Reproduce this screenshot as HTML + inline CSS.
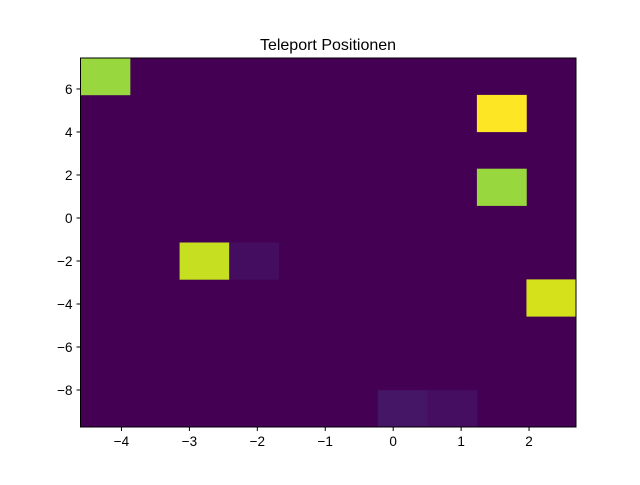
<!DOCTYPE html>
<html><head><meta charset="utf-8"><style>
body{margin:0;background:#fff;}
svg text{font-family:"Liberation Sans","DejaVu Sans",sans-serif;fill:#000;}
</style></head><body>
<svg id="chart" width="640" height="480" viewBox="0 0 640 480" xmlns="http://www.w3.org/2000/svg">
<rect width="640" height="480" fill="#fff"/>
<text x="328" y="50" font-size="16" text-anchor="middle">Teleport Positionen</text>
<g id="cells"></g>
<g id="axes"></g>
</svg>
<script>
const xEdgesStart = -4.603, binW = 0.7294, nX = 10;
const yEdgesStart = -9.72, binH = 1.716, nY = 10;
const xTicks = [-4,-3,-2,-1,0,1,2];
const yTicks = [-8,-6,-4,-2,0,2,4,6];
// nonzero cells: [col, rowFromBottom, count]
const cellCols = [0,8,8,2,3,9,6,7];
const cellRows = [9,8,6,4,4,3,0,0];
const cellCounts = [27,34,27,30,1.2,31,2,1.3];
const vmax = 34;

const L=80.5,R=576,T=58,B=427;
const xMin=xEdgesStart, xMax=xEdgesStart+binW*nX, yMin=yEdgesStart, yMax=yEdgesStart+binH*nY;
const sx=v=>L+(v-xMin)/(xMax-xMin)*(R-L);
const sy=v=>B-(v-yMin)/(yMax-yMin)*(B-T);
const stops=[[0,[68,1,84]],[0.125,[71,44,122]],[0.25,[59,81,139]],[0.375,[44,113,142]],[0.5,[33,144,141]],[0.625,[39,173,129]],[0.7,[68,191,112]],[0.75,[94,201,98]],[0.8,[160,218,57]],[0.85,[181,222,43]],[0.9,[208,225,28]],[0.95,[231,228,25]],[1,[253,231,37]]];
function viridis(t){t=Math.max(0,Math.min(1,t));for(let i=1;i<stops.length;i++){if(t<=stops[i][0]){const a=stops[i-1],b=stops[i],f=(t-a[0])/(b[0]-a[0]);return 'rgb('+a[1].map((c,k)=>Math.round(c+(b[1][k]-c)*f)).join(',')+')';}}return 'rgb(253,231,37)';}
const NS='http://www.w3.org/2000/svg';
const cg=document.getElementById('cells');
const bg=document.createElementNS(NS,'rect');
bg.setAttribute('x',L);bg.setAttribute('y',T);bg.setAttribute('width',R-L);bg.setAttribute('height',B-T);bg.setAttribute('fill',viridis(0));


cg.appendChild(bg);
for(let i=0;i<cellCols.length;i++){
 const x0=xMin+cellCols[i]*binW, y0=yMin+cellRows[i]*binH;
 const r=document.createElementNS(NS,'rect');
 r.setAttribute('x',sx(x0));r.setAttribute('y',sy(y0+binH));
 r.setAttribute('width',sx(x0+binW)-sx(x0)+0.3);r.setAttribute('height',sy(y0)-sy(y0+binH)+0.3);
 r.setAttribute('fill',viridis(cellCounts[i]/vmax));
 
 
 cg.appendChild(r);
}
const ag=document.getElementById('axes');
const fr=document.createElementNS(NS,'rect');
fr.setAttribute('x',L);fr.setAttribute('y',T);fr.setAttribute('width',R-L);fr.setAttribute('height',B-T);fr.setAttribute('fill','none');fr.setAttribute('stroke','#000');fr.setAttribute('stroke-width','1');


ag.appendChild(fr);
const fmt=v=>v<0?'\u2212'+Math.abs(v):String(v);
xTicks.forEach(v=>{
 const x=sx(v);
 const l=document.createElementNS(NS,'line');
 l.setAttribute('x1',x);l.setAttribute('x2',x);l.setAttribute('y1',B);l.setAttribute('y2',B+4);l.setAttribute('stroke','#000');
 
 
 ag.appendChild(l);
 const t=document.createElementNS(NS,'text');
 t.setAttribute('x',x);t.setAttribute('y',B+19);t.setAttribute('font-size','13.5');t.setAttribute('text-anchor','middle');t.textContent=fmt(v);
 
 
 ag.appendChild(t);
});
yTicks.forEach(v=>{
 const y=sy(v);
 const l=document.createElementNS(NS,'line');
 l.setAttribute('x1',L-4);l.setAttribute('x2',L);l.setAttribute('y1',y);l.setAttribute('y2',y);l.setAttribute('stroke','#000');
 
 
 ag.appendChild(l);
 const t=document.createElementNS(NS,'text');
 t.setAttribute('x',L-8);t.setAttribute('y',y+5);t.setAttribute('font-size','13.5');t.setAttribute('text-anchor','end');t.textContent=fmt(v);
 
 
 ag.appendChild(t);
});
</script>
</body></html>
